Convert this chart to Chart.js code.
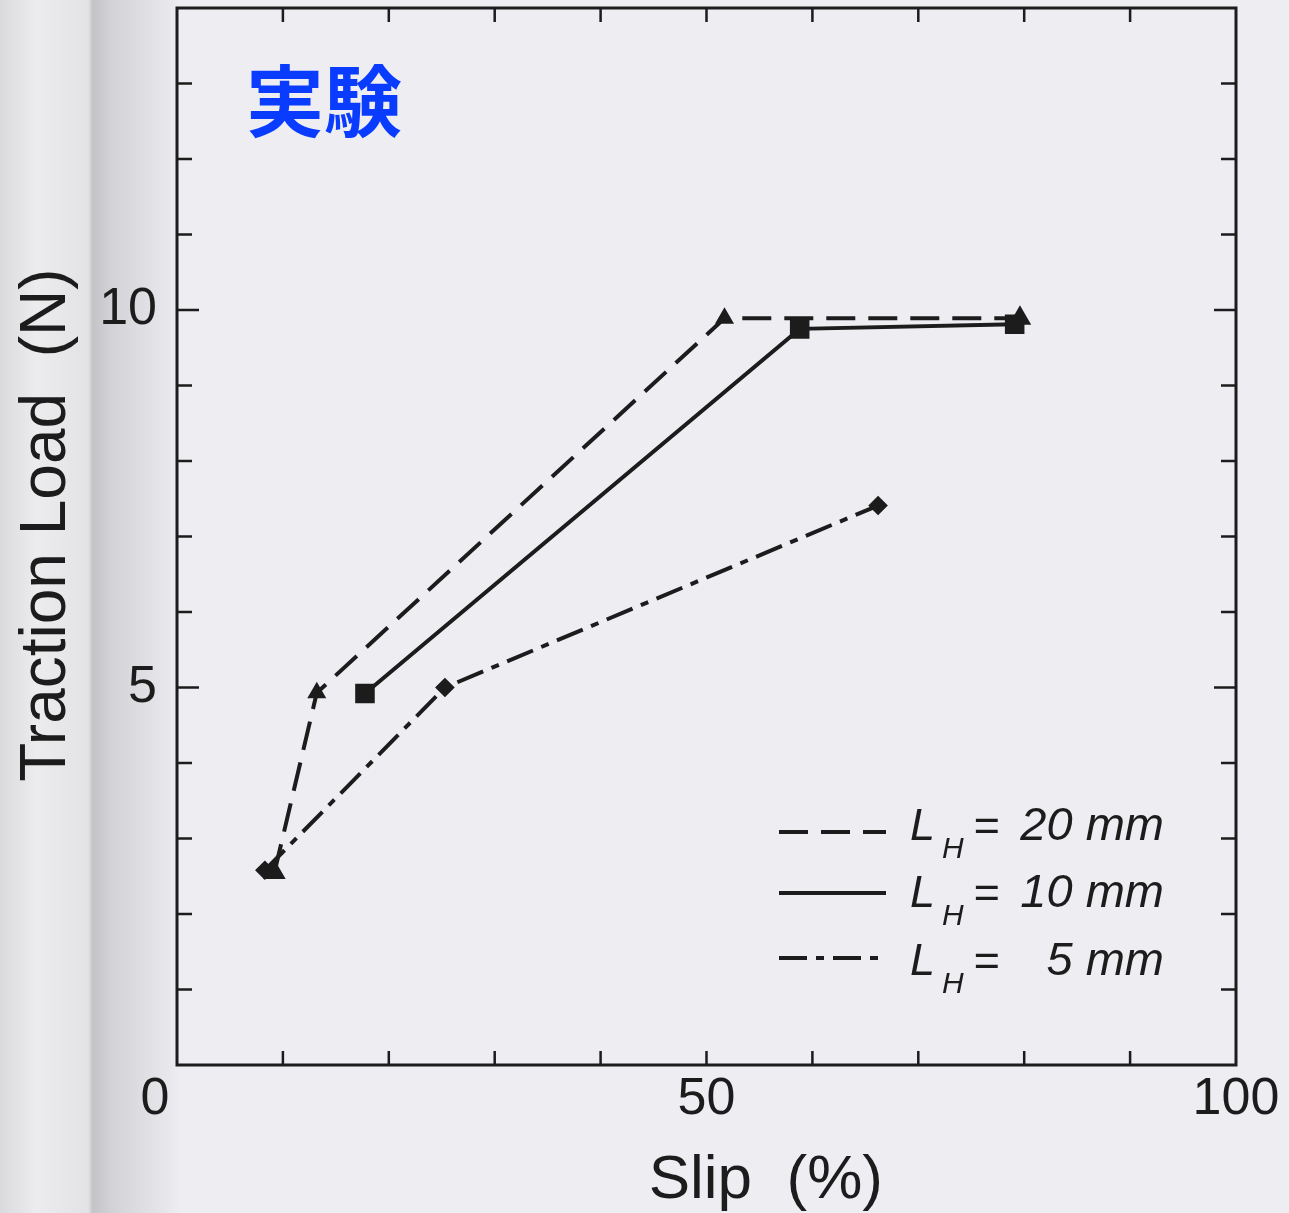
<!DOCTYPE html>
<html>
<head>
<meta charset="utf-8">
<script src="https://cdn.jsdelivr.net/npm/chart.js@4.4.1/dist/chart.umd.min.js"></script>
<style>
  html, body { margin: 0; padding: 0; background: #eeedf2; }
  #wrap { width: 1289px; height: 1213px; }
</style>
</head>
<body>
<div id="wrap"><canvas id="chart" width="1289" height="1213"></canvas></div>
<script>
// Data (Slip %, Traction Load N)
const slip20 = [9.2, 13.2, 51.7, 79.6];
const load20 = [2.55, 4.93, 9.89, 9.89];
const slip10 = [17.75, 58.8, 79.1];
const load10 = [4.92, 9.75, 9.81];
const slip5 = [8.3, 25.3, 66.2];
const load5 = [2.58, 5.0, 7.41];

const seriesSizes = ['20', '10', '5']; // L_H in mm
const xTickLabels = [0, 50, 100];
const yTickLabels = [5, 10];

const ink = '#1c1c1c';
const sans = '"Liberation Sans", Arial, sans-serif';

function toPoints(xs, ys) {
    return xs.map((v, i) => ({ x: v, y: ys[i] }));
}

// Background, frame, inward ticks, labels, legend
const paperPlugin = {
    id: 'paper',
    beforeDraw(chart) {
        const ctx = chart.ctx;
        ctx.save();
        ctx.fillStyle = '#eeedf2';
        ctx.fillRect(0, 0, chart.width, chart.height);
        // page shadow at the left
        const g = ctx.createLinearGradient(0, 0, 180, 0);
        g.addColorStop(0, '#dadadc');
        g.addColorStop(0.2, '#ececee');
        g.addColorStop(0.49, '#e3e3e5');
        g.addColorStop(0.515, '#c4c4c8');
        g.addColorStop(0.62, '#d3d3d7');
        g.addColorStop(0.95, '#e9e8ed');
        g.addColorStop(1, '#eeedf2');
        ctx.fillStyle = g;
        ctx.fillRect(0, 0, 180, chart.height);
        ctx.restore();
    },
    afterDraw(chart) {
        const { ctx, chartArea: a, scales: { x, y } } = chart;
        ctx.save();
        ctx.strokeStyle = ink;
        ctx.lineWidth = 3;
        ctx.strokeRect(a.left, a.top, a.right - a.left, a.bottom - a.top);

        // inward ticks on all four sides
        ctx.lineWidth = 2.5;
        ctx.beginPath();
        x.ticks.forEach(t => {
            if (t.value <= x.min || t.value >= x.max) return;
            const px = x.getPixelForValue(t.value);
            ctx.moveTo(px, a.bottom); ctx.lineTo(px, a.bottom - 14);
            ctx.moveTo(px, a.top); ctx.lineTo(px, a.top + 14);
        });
        y.ticks.forEach(t => {
            if (t.value <= y.min || t.value >= y.max) return;
            const py = y.getPixelForValue(t.value);
            const len = yTickLabels.includes(t.value) ? 22 : 15;
            ctx.moveTo(a.left, py); ctx.lineTo(a.left + len, py);
            ctx.moveTo(a.right, py); ctx.lineTo(a.right - len, py);
        });
        ctx.stroke();

        // x tick labels (the 0 sits left of the corner)
        ctx.fillStyle = ink;
        ctx.font = '52px ' + sans;
        ctx.textAlign = 'center';
        ctx.textBaseline = 'middle';
        xTickLabels.forEach(v => {
            let px = x.getPixelForValue(v);
            if (v === x.min) px -= 22;
            ctx.fillText(String(v), px, a.bottom + 35);
        });

        // y axis title
        ctx.save();
        ctx.translate(47, y.getPixelForValue(7.15));
        ctx.rotate(-Math.PI / 2);
        ctx.font = '64px ' + sans;
        ctx.fillText('Traction Load  (N)', 0, 0);
        ctx.restore();

        // x axis title, set a little right of centre as in the original
        ctx.font = '62px ' + sans;
        ctx.textBaseline = 'alphabetic';
        ctx.fillText('Slip  (%)', x.getPixelForValue(55.6), 1198);

        // blue heading
        ctx.fillStyle = '#0a3cff';
        ctx.font = 'bold 78px "Noto Sans CJK JP", sans-serif';
        ctx.textAlign = 'left';
        ctx.fillText('実験', 246, 131);

        // legend
        const rows = [832, 893, 958];
        const baselines = [840, 907, 975];
        chart.data.datasets.forEach((ds, i) => {
            const ly = rows[i];
            ctx.strokeStyle = ink;
            ctx.lineWidth = ds.borderWidth;
            ctx.setLineDash(ds.borderDash || []);
            ctx.beginPath();
            ctx.moveTo(779, ly);
            ctx.lineTo(886, ly);
            ctx.stroke();
            ctx.setLineDash([]);

            const by = baselines[i];
            ctx.fillStyle = ink;
            ctx.textAlign = 'left';
            ctx.font = 'italic 45px ' + sans;
            ctx.fillText('L', 910, by);
            ctx.fillText('=', 973, by);
            ctx.font = 'italic 30px ' + sans;
            ctx.fillText('H', 942, by + 18);
            ctx.font = 'italic 47px ' + sans;
            ctx.textAlign = 'right';
            ctx.fillText(seriesSizes[i] + ' mm', 1164, by);
        });
        ctx.restore();
    }
};

const ctx = document.getElementById('chart').getContext('2d');
new Chart(ctx, {
    type: 'line',
    data: {
        datasets: [
            {
                label: 'LH = 20 mm',
                data: toPoints(slip20, load20),
                borderColor: ink,
                backgroundColor: ink,
                borderWidth: 4,
                borderDash: [29, 13],
                pointStyle: 'triangle',
                pointRadius: [9, 7, 7, 9],
                tension: 0
            },
            {
                label: 'LH = 10 mm',
                data: toPoints(slip10, load10),
                borderColor: ink,
                backgroundColor: ink,
                borderWidth: 4,
                borderDash: [],
                pointStyle: 'rect',
                pointRadius: 11,
                tension: 0
            },
            {
                label: 'LH = 5 mm',
                data: toPoints(slip5, load5),
                borderColor: ink,
                backgroundColor: ink,
                borderWidth: 4,
                borderDash: [28, 9, 8, 9],
                pointStyle: 'rectRot',
                pointRadius: 7,
                tension: 0
            }
        ]
    },
    options: {
        responsive: false,
        animation: false,
        devicePixelRatio: 1,
        layout: { autoPadding: false, padding: { left: 0, top: 8, right: 53, bottom: 0 } },
        plugins: {
            legend: { display: false },
            tooltip: { enabled: false }
        },
        scales: {
            x: {
                type: 'linear',
                min: 0,
                max: 100,
                grid: { display: false },
                border: { display: false },
                ticks: { stepSize: 10, display: false },
                afterFit(scale) {
                    scale.height = 148;
                    scale.paddingLeft = 0;
                    scale.paddingRight = 0;
                }
            },
            y: {
                type: 'linear',
                min: 0,
                max: 14,
                grid: { display: false },
                border: { display: false },
                ticks: {
                    stepSize: 1,
                    color: ink,
                    padding: 12,
                    font: { family: sans, size: 52 },
                    callback: v => yTickLabels.includes(v) ? String(v) : ''
                },
                afterFit(scale) {
                    scale.width = 177;
                    scale.paddingTop = 0;
                    scale.paddingBottom = 0;
                }
            }
        }
    },
    plugins: [paperPlugin]
});
</script>
</body>
</html>
